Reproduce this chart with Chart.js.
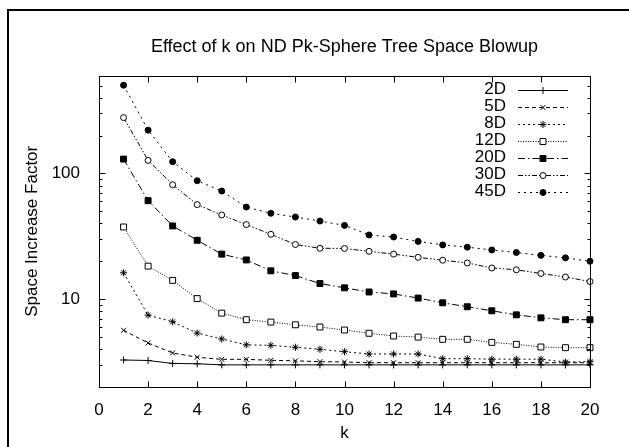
<!DOCTYPE html>
<html>
<head>
<meta charset="utf-8">
<script src="https://cdn.jsdelivr.net/npm/chart.js@4.4.0/dist/chart.umd.min.js"></script>
<style>
  html, body { margin: 0; padding: 0; background: #fff; overflow: hidden; }
  #wrap { position: relative; width: 629px; height: 447px; overflow: hidden; }
  #frame { position: absolute; left: 7px; top: 9px; width: 700px; height: 600px;
           border-left: 2px solid #000; border-top: 2px solid #000; }
  canvas { position: absolute; left: 0; top: 0; }
</style>
</head>
<body>
<div id="wrap">
  <div id="frame"></div>
  <canvas id="chart" width="629" height="447"></canvas>
</div>
<script>
  // values
  var kValues = [1, 2, 3, 4, 5, 6, 7, 8, 9, 10, 11, 12, 13, 14, 15, 16, 17, 18, 19, 20];
  var seriesNames = ['2D', '5D', '8D', '12D', '20D', '30D', '45D'];

  var dim2  = [3.28, 3.25, 3.08, 3.06, 3.0, 3.0, 3.0, 3.0, 3.0, 3.0, 3.0, 3.0, 3.0, 3.0, 3.0, 3.0, 3.0, 3.0, 3.0, 3.0];
  var dim5  = [5.65, 4.48, 3.73, 3.45, 3.32, 3.32, 3.26, 3.23, 3.18, 3.16, 3.12, 3.12, 3.12, 3.12, 3.12, 3.12, 3.12, 3.12, 3.12, 3.12];
  var dim8  = [16.2, 7.46, 6.6, 5.37, 4.82, 4.33, 4.29, 4.14, 3.99, 3.82, 3.66, 3.66, 3.66, 3.36, 3.36, 3.33, 3.33, 3.33, 3.16, 3.18];
  var dim12 = [37.5, 18.3, 14.1, 10.1, 7.74, 6.86, 6.57, 6.25, 6.0, 5.68, 5.35, 5.09, 4.99, 4.79, 4.79, 4.53, 4.37, 4.16, 4.11, 4.11];
  var dim20 = [130, 60.7, 38.2, 29.4, 22.8, 20.5, 16.8, 15.4, 13.3, 12.3, 11.4, 11.0, 10.2, 9.35, 8.7, 8.08, 7.5, 7.1, 6.86, 6.86];
  var dim30 = [278, 127, 81.3, 56.5, 46.7, 39.2, 32.8, 27.2, 25.4, 25.3, 24.0, 22.8, 21.5, 20.4, 19.4, 17.7, 17.1, 16.0, 15.0, 13.8];
  var dim45 = [503, 221, 124, 87.5, 72.4, 54, 48.2, 45, 41.8, 38.6, 32.4, 31.2, 28.8, 27, 25.9, 24.6, 23.5, 22.3, 21.3, 20];

  var xTicks = [0, 2, 4, 6, 8, 10, 12, 14, 16, 18, 20];
  var yMajorTicks = [10, 100];
  var yMinorTicks = [3, 4, 5, 6, 7, 8, 9, 20, 30, 40, 50, 60, 70, 80, 90, 200, 300, 400, 500];

  var FONT = '"Liberation Sans", Arial, Helvetica, sans-serif';

  // gnuplot-like monochrome styles, one per series
  var lineStyles = [
    { dash: [],               point: 'cross',    r: 3.5, fill: '#000' },
    { dash: [4, 3],           point: 'crossRot', r: 3.5, fill: '#000' },
    { dash: [2, 3],           point: 'star',     r: 3.5, fill: '#000' },
    { dash: [1, 1.5],         point: 'rect',     r: 4.2, fill: '#fff' },
    { dash: [7, 3, 1.5, 3],   point: 'rect',     r: 4.2, fill: '#000' },
    { dash: [5, 2, 1.5, 2, 1.5, 2], point: 'circle', r: 3, fill: '#fff' },
    { dash: [2, 4],           point: 'circle',   r: 3,   fill: '#000' }
  ];

  var allSeries = [dim2, dim5, dim8, dim12, dim20, dim30, dim45];

  var datasets = allSeries.map(function (vals, i) {
    var s = lineStyles[i];
    return {
      label: seriesNames[i],
      data: vals.map(function (v, j) { return { x: kValues[j], y: v }; }),
      borderColor: '#000',
      borderWidth: 1,
      borderDash: s.dash,
      pointStyle: s.point,
      pointRadius: s.r,
      pointBorderWidth: 1,
      pointBorderColor: '#000',
      pointBackgroundColor: s.fill,
      tension: 0,
      clip: false
    };
  });

  // inward ticks on all four sides + plot border, like gnuplot
  var frameTicks = {
    id: 'frameTicks',
    afterDatasetsDraw: function (chart) {
      var ctx = chart.ctx, a = chart.chartArea, xs = chart.scales.x, ys = chart.scales.y;
      var L = Math.round(a.left) + 0.5, R = Math.round(a.right) + 0.5;
      var T = Math.round(a.top) + 0.5, B = Math.round(a.bottom) + 0.5;
      ctx.save();
      ctx.strokeStyle = '#000';
      ctx.lineWidth = 1;
      ctx.beginPath();
      xTicks.forEach(function (v) {
        var px = Math.round(xs.getPixelForValue(v)) + 0.5;
        ctx.moveTo(px, B); ctx.lineTo(px, B - 6);
        ctx.moveTo(px, T); ctx.lineTo(px, T + 6);
      });
      yMajorTicks.forEach(function (v) {
        var py = Math.round(ys.getPixelForValue(v)) + 0.5;
        ctx.moveTo(L, py); ctx.lineTo(L + 6, py);
        ctx.moveTo(R, py); ctx.lineTo(R - 6, py);
      });
      yMinorTicks.forEach(function (v) {
        var py = Math.round(ys.getPixelForValue(v)) + 0.5;
        ctx.moveTo(L, py); ctx.lineTo(L + 3, py);
        ctx.moveTo(R, py); ctx.lineTo(R - 3, py);
      });
      ctx.stroke();
      ctx.strokeRect(L, T, R - L, B - T);
      ctx.restore();
    }
  };

  // key in the top right corner: right-aligned label, then line sample with marker
  var keyLegend = {
    id: 'keyLegend',
    afterDatasetsDraw: function (chart) {
      var ctx = chart.ctx, a = chart.chartArea;
      ctx.save();
      ctx.font = '17px ' + FONT;
      ctx.textAlign = 'right';
      ctx.textBaseline = 'middle';
      chart.data.datasets.forEach(function (ds, i) {
        var y = a.top + 14 + i * 17;
        ctx.fillStyle = '#000';
        ctx.fillText(ds.label, a.right - 84, y);
        ctx.strokeStyle = '#000';
        ctx.lineWidth = 1;
        ctx.setLineDash(ds.borderDash);
        ctx.beginPath();
        ctx.moveTo(a.right - 72, Math.round(y) + 0.5);
        ctx.lineTo(a.right - 22, Math.round(y) + 0.5);
        ctx.stroke();
        ctx.setLineDash([]);
        ctx.fillStyle = ds.pointBackgroundColor;
        Chart.helpers.drawPoint(ctx, {
          pointStyle: ds.pointStyle, radius: ds.pointRadius, borderWidth: 1, rotation: 0
        }, a.right - 47, Math.round(y) + 0.5);
      });
      ctx.restore();
    }
  };

  new Chart(document.getElementById('chart'), {
    type: 'line',
    data: { datasets: datasets },
    options: {
      responsive: false,
      devicePixelRatio: 1,
      animation: false,
      layout: { padding: { top: 12, left: 22, right: 39, bottom: 0 } },
      plugins: {
        legend: { display: false },
        tooltip: { enabled: false },
        title: {
          display: true,
          fullSize: false,
          text: 'Effect of k on ND Pk-Sphere Tree Space Blowup',
          color: '#000',
          font: { family: FONT, size: 18, weight: 'normal' },
          padding: { top: 24, bottom: 18 }
        }
      },
      scales: {
        x: {
          type: 'linear',
          min: 0,
          max: 20,
          afterFit: function (scale) { scale.height = 60; },
          afterBuildTicks: function (scale) {
            scale.ticks = xTicks.map(function (v) { return { value: v }; });
          },
          ticks: {
            color: '#000',
            padding: 5,
            maxRotation: 0,
            font: { family: FONT, size: 17 }
          },
          grid: { display: false },
          border: { display: false },
          title: {
            display: true,
            text: 'k',
            color: '#000',
            font: { family: FONT, size: 17 },
            padding: { top: 0, bottom: 3 }
          }
        },
        y: {
          type: 'logarithmic',
          min: 2,
          max: 600,
          afterFit: function (scale) { scale.width = 99 - 22; },
          afterBuildTicks: function (scale) {
            scale.ticks = yMajorTicks.map(function (v) { return { value: v }; });
          },
          ticks: {
            color: '#000',
            padding: 11,
            font: { family: FONT, size: 17 },
            callback: function (v) { return String(v); }
          },
          grid: { display: false },
          border: { display: false },
          title: {
            display: true,
            text: 'Space Increase Factor',
            color: '#000',
            font: { family: FONT, size: 17 },
            padding: { top: 0, bottom: 0 }
          }
        }
      }
    },
    plugins: [frameTicks, keyLegend]
  });
</script>
</body>
</html>
